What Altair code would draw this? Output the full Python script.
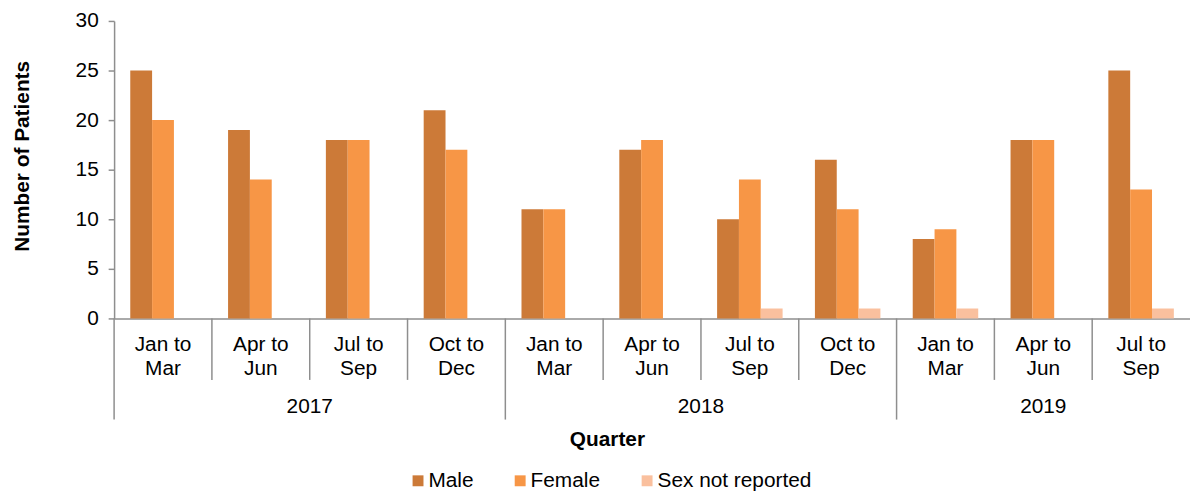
import altair as alt
import pandas as pd

# ---- data ----
years = ["2017"] * 4 + ["2018"] * 4 + ["2019"] * 3
quarters = ["Jan to Mar", "Apr to Jun", "Jul to Sep", "Oct to Dec",
            "Jan to Mar", "Apr to Jun", "Jul to Sep", "Oct to Dec",
            "Jan to Mar", "Apr to Jun", "Jul to Sep"]
male = [25, 19, 18, 21, 11, 17, 10, 16, 8, 18, 25]
female = [20, 14, 18, 17, 11, 18, 14, 11, 9, 18, 13]
not_reported = [0, 0, 0, 0, 0, 0, 1, 1, 1, 0, 1]
sexes = ["Male", "Female", "Sex not reported"]
colors = ["#CC7A38", "#F79646", "#FAC09E"]
y_ticks = [0, 5, 10, 15, 20, 25, 30]

FONT = "Liberation Sans"
GRAY = "#8E8E8E"
FS = 21

keys = [f"{y} {q}" for y, q in zip(years, quarters)]
rows = []
for k, m, f, n in zip(keys, male, female, not_reported):
    for s, v in zip(sexes, (m, f, n)):
        rows.append({"key": k, "sex": s, "value": v})
df = pd.DataFrame(rows)

n = len(keys)
year_starts = [i for i in range(n) if i == 0 or years[i] != years[i - 1]]
year_ends = year_starts[1:] + [n]
year_df = pd.DataFrame({
    "label": [years[s] for s in year_starts],
    "pos": [(s + e) / 2 for s, e in zip(year_starts, year_ends)],
})
year_bounds = pd.DataFrame({"pos": year_starts})
quarter_bounds = pd.DataFrame({"pos": [i for i in range(1, n) if i not in year_starts]})

qscale = alt.Scale(domain=[0, n], nice=False, zero=False)

bars = alt.Chart(df).mark_bar().encode(
    x=alt.X("key:N", sort=keys,
            scale=alt.Scale(paddingInner=0, paddingOuter=0),
            axis=alt.Axis(title="Quarter", labelAngle=0, ticks=False,
                          labelExpr="[slice(datum.value, 5, 11), slice(datum.value, 12)]",
                          labelFontSize=FS, labelLineHeight=25, labelPadding=15,
                          labelColor="black", labelFont=FONT,
                          domainColor=GRAY, domainWidth=1.5,
                          titleFontSize=FS, titleFontWeight="bold", titleFont=FONT,
                          titleColor="black", titleX=497, titleY=128,
                          titleBaseline="alphabetic")),
    xOffset=alt.XOffset("sex:N", sort=sexes,
                        scale=alt.Scale(paddingOuter=0.74, paddingInner=0)),
    y=alt.Y("value:Q", scale=alt.Scale(domain=[0, 30], nice=False),
            axis=alt.Axis(values=y_ticks, title="Number of Patients", grid=False,
                          tickSize=6, tickColor=GRAY, tickWidth=1.5,
                          domainColor=GRAY, domainWidth=1.5,
                          labelFontSize=FS, labelPadding=10, labelColor="black",
                          labelFont=FONT,
                          titleFontSize=FS, titleFontWeight="bold", titleFont=FONT,
                          titleColor="black", titleX=-86, titleY=136,
                          titleBaseline="alphabetic")),
    color=alt.Color("sex:N", sort=sexes,
                    scale=alt.Scale(domain=sexes, range=colors),
                    legend=alt.Legend(orient="none", legendX=296, legendY=453,
                                      direction="horizontal", title=None,
                                      symbolType="square", symbolSize=121,
                                      symbolStrokeWidth=0, labelFontSize=FS,
                                      labelFont=FONT, labelColor="black",
                                      labelOffset=0, columnPadding=36, padding=0)),
)

qrules = alt.Chart(quarter_bounds).mark_rule(color=GRAY, strokeWidth=1.5).encode(
    x=alt.X("pos:Q", scale=qscale, axis=None),
    y=alt.value(300), y2=alt.value(362),
)
yrules = alt.Chart(year_bounds).mark_rule(color=GRAY, strokeWidth=1.5).encode(
    x=alt.X("pos:Q", scale=qscale, axis=None),
    y=alt.value(300), y2=alt.value(402),
)
ytext = alt.Chart(year_df).mark_text(fontSize=FS, font=FONT, color="black",
                                     baseline="alphabetic").encode(
    x=alt.X("pos:Q", scale=qscale, axis=None),
    y=alt.value(395),
    text="label:N",
)

chart = alt.layer(bars, qrules, yrules, ytext).resolve_scale(
    x="independent"
).properties(
    width=1085, height=300,
    padding={"left": 3, "top": 0, "right": 0, "bottom": 0},
).configure_view(stroke=None)

chart.save("out.html", embed_options={"renderer": "svg", "actions": False})
